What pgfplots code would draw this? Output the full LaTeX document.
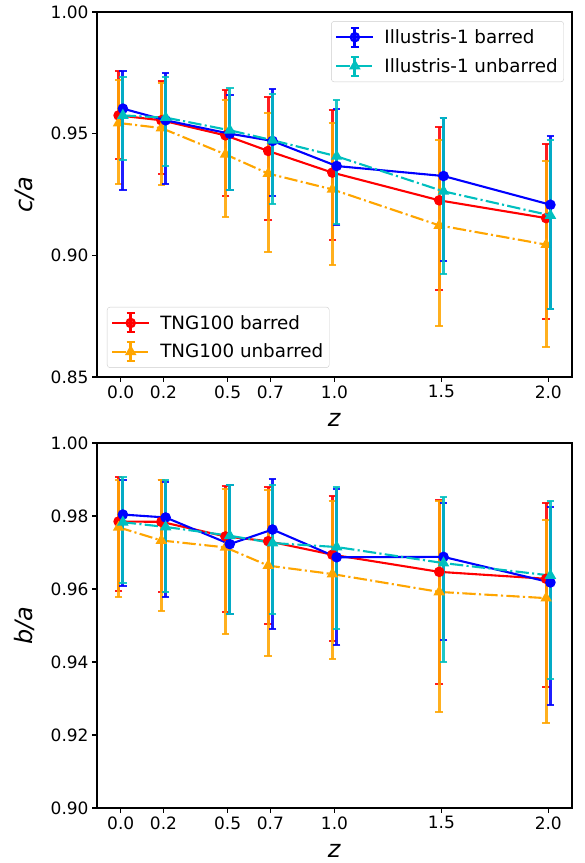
\documentclass[border=0pt]{standalone}
\usepackage{fontspec}
\setmainfont{DejaVu Sans}
\usepackage{pgfplots}
\usepackage{pgfplotstable}
\pgfplotsset{compat=1.18}

\definecolor{mplorange}{RGB}{255,165,0}
\definecolor{mplcyan}{RGB}{0,191,191}

% c/a  (x already shifted: TNG -0.01, Illustris +0.01)
\pgfplotstableread{
x     y      lo     hi
-0.01 0.9575 0.9395 0.9756
0.19  0.9555 0.9336 0.9716
0.49  0.9493 0.9242 0.9678
0.69  0.9429 0.9144 0.9651
0.99  0.9340 0.9062 0.9596
1.49  0.9226 0.8859 0.9527
1.99  0.9153 0.8740 0.9456
}\caTNGbar
\pgfplotstableread{
x     y      lo     hi
-0.01 0.9544 0.9295 0.9722
0.19  0.9523 0.9288 0.9708
0.49  0.9415 0.9158 0.9640
0.69  0.9336 0.9014 0.9585
0.99  0.9271 0.8962 0.9545
1.49  0.9123 0.8708 0.9473
1.99  0.9044 0.8623 0.9386
}\caTNGunbar
\pgfplotstableread{
x     y      lo     hi
0.01  0.9603 0.9267 0.9756
0.21  0.9555 0.9295 0.9749
0.51  0.9500 0.9270 0.9660
0.71  0.9470 0.9244 0.9685
1.01  0.9367 0.9123 0.9603
1.51  0.9326 0.8975 0.9564
2.01  0.9208 0.8781 0.9490
}\caILLbar
\pgfplotstableread{
x     y      lo     hi
0.01  0.9575 0.9393 0.9733
0.21  0.9566 0.9367 0.9733
0.51  0.9514 0.9270 0.9689
0.71  0.9473 0.9210 0.9664
1.01  0.9407 0.9127 0.9638
1.51  0.9263 0.8925 0.9564
2.01  0.9164 0.8781 0.9473
}\caILLunbar

% b/a
\pgfplotstableread{
x     y      lo     hi
-0.01 0.9785 0.9595 0.9906
0.19  0.9784 0.9591 0.9900
0.49  0.9744 0.9536 0.9881
0.69  0.9731 0.9504 0.9879
0.99  0.9694 0.9457 0.9856
1.49  0.9647 0.9341 0.9845
1.99  0.9628 0.9331 0.9836
}\baTNGbar
\pgfplotstableread{
x     y      lo     hi
-0.01 0.9769 0.9577 0.9900
0.19  0.9733 0.9541 0.9900
0.49  0.9714 0.9477 0.9875
0.69  0.9664 0.9417 0.9872
0.99  0.9641 0.9409 0.9840
1.49  0.9592 0.9262 0.9840
1.99  0.9575 0.9233 0.9790
}\baTNGunbar
\pgfplotstableread{
x     y      lo     hi
0.01  0.9804 0.9607 0.9900
0.21  0.9796 0.9577 0.9892
0.51  0.9723 0.9532 0.9884
0.71  0.9763 0.9490 0.9901
1.01  0.9687 0.9446 0.9874
1.51  0.9688 0.9461 0.9837
2.01  0.9618 0.9281 0.9826
}\baILLbar
\pgfplotstableread{
x     y      lo     hi
0.01  0.9783 0.9616 0.9907
0.21  0.9770 0.9592 0.9900
0.51  0.9746 0.9532 0.9886
0.71  0.9726 0.9532 0.9886
1.01  0.9715 0.9491 0.9879
1.51  0.9671 0.9399 0.9852
2.01  0.9637 0.9353 0.9840
}\baILLunbar

\pgfplotsset{
  panel/.style={
    scale only axis, width=475pt, height=365pt,
    xmin=-0.111, xmax=2.111,
    xtick={0,0.2,0.5,0.7,1.0,1.5,2.0},
    tick align=outside, tick pos=left,
    major tick length=4.9pt,
    every tick/.style={black, line width=1.1pt},
    axis line style={line width=1.1pt},
    /pgf/number format/assume math mode=true,
    tick label style={font=\fontsize{17}{20}\selectfont},
    xticklabel style={/pgf/number format/fixed, /pgf/number format/fixed zerofill, /pgf/number format/precision=1},
    yticklabel style={/pgf/number format/fixed, /pgf/number format/fixed zerofill, /pgf/number format/precision=2},
    label style={font=\fontsize{24}{28}\selectfont},
    xlabel={\textit{z}},
    xlabel style={at={(axis description cs:0.5,-0.118)}, anchor=center},
    ylabel style={at={(axis description cs:-0.152,0.5)}, anchor=center},
    legend style={draw=black!20, rounded corners=3pt, fill=white, fill opacity=0.8,
      text opacity=1, font=\fontsize{18.3}{22}\selectfont, row sep=7pt,
      inner xsep=4pt, inner ysep=5pt,
      /tikz/every odd column/.append style={column sep=8pt}},
    legend cell align=left,
    legend image code/.code={
      \draw[##1, mark=none, line width=2.1pt] (0pt,0pt) -- (37pt,0pt);
      \draw[##1, solid, mark=none, line width=2.8pt] (18.5pt,-9.5pt) -- (18.5pt,9.5pt);
      \draw[##1, solid, mark=none, line width=2pt] (14.5pt,-9.5pt) -- (22.5pt,-9.5pt) (14.5pt,9.5pt) -- (22.5pt,9.5pt);
      \draw[##1, only marks] plot coordinates {(18.5pt,0pt)};
    },
  },
  ebar/.style={error bars/.cd, y dir=both, y explicit,
    error bar style={solid, line width=2.8pt, opacity=0.88},
    error mark options={solid, rotate=90, mark size=3.8pt, line width=2pt}},
  dashdot/.style={dash pattern=on 13.3pt off 3.3pt on 2.1pt off 3.3pt},
  tngbar/.style={red, line width=2.1pt, mark=*, mark size=4.2pt, ebar},
  tngunbar/.style={mplorange, line width=2.1pt, dashdot, mark=triangle*, mark size=4.6pt, mark options={solid}, ebar},
  illbar/.style={blue, line width=2.1pt, mark=*, mark size=4.2pt, ebar},
  illunbar/.style={mplcyan, line width=2.1pt, dashdot, mark=triangle*, mark size=4.6pt, mark options={solid}, ebar},
}

\begin{document}
\begin{tikzpicture}
\useasboundingbox (-97pt,12pt) rectangle (488pt,-851pt);

% top panel: TNG100 with its legend
\begin{axis}[panel, at={(0pt,0pt)}, anchor=north west,
  ymin=0.85, ymax=1.00, ytick={0.85,0.90,0.95,1.00},
  ylabel={\textit{c/a}},
  legend style={at={(0.021,0.025)}, anchor=south west}]
\addplot[tngbar]
  table[x=x, y=y, y error plus expr=\thisrow{hi}-\thisrow{y}, y error minus expr=\thisrow{y}-\thisrow{lo}] {\caTNGbar};
\addlegendentry{TNG100 barred}
\addplot[tngunbar]
  table[x=x, y=y, y error plus expr=\thisrow{hi}-\thisrow{y}, y error minus expr=\thisrow{y}-\thisrow{lo}] {\caTNGunbar};
\addlegendentry{TNG100 unbarred}
\end{axis}

% top panel: Illustris-1 with its legend
\begin{axis}[panel, hide axis, at={(0pt,0pt)}, anchor=north west,
  ymin=0.85, ymax=1.00,
  legend style={at={(0.983,0.975)}, anchor=north east}]
\addplot[illbar]
  table[x=x, y=y, y error plus expr=\thisrow{hi}-\thisrow{y}, y error minus expr=\thisrow{y}-\thisrow{lo}] {\caILLbar};
\addlegendentry{Illustris-1 barred}
\addplot[illunbar]
  table[x=x, y=y, y error plus expr=\thisrow{hi}-\thisrow{y}, y error minus expr=\thisrow{y}-\thisrow{lo}] {\caILLunbar};
\addlegendentry{Illustris-1 unbarred}
\end{axis}

% bottom panel
\begin{axis}[panel, at={(0pt,-431pt)}, anchor=north west,
  ymin=0.90, ymax=1.00, ytick={0.90,0.92,0.94,0.96,0.98,1.00},
  ylabel={\textit{b/a}}]
\addplot[tngbar]
  table[x=x, y=y, y error plus expr=\thisrow{hi}-\thisrow{y}, y error minus expr=\thisrow{y}-\thisrow{lo}] {\baTNGbar};
\addplot[tngunbar]
  table[x=x, y=y, y error plus expr=\thisrow{hi}-\thisrow{y}, y error minus expr=\thisrow{y}-\thisrow{lo}] {\baTNGunbar};
\addplot[illbar]
  table[x=x, y=y, y error plus expr=\thisrow{hi}-\thisrow{y}, y error minus expr=\thisrow{y}-\thisrow{lo}] {\baILLbar};
\addplot[illunbar]
  table[x=x, y=y, y error plus expr=\thisrow{hi}-\thisrow{y}, y error minus expr=\thisrow{y}-\thisrow{lo}] {\baILLunbar};
\end{axis}
\end{tikzpicture}
\end{document}
